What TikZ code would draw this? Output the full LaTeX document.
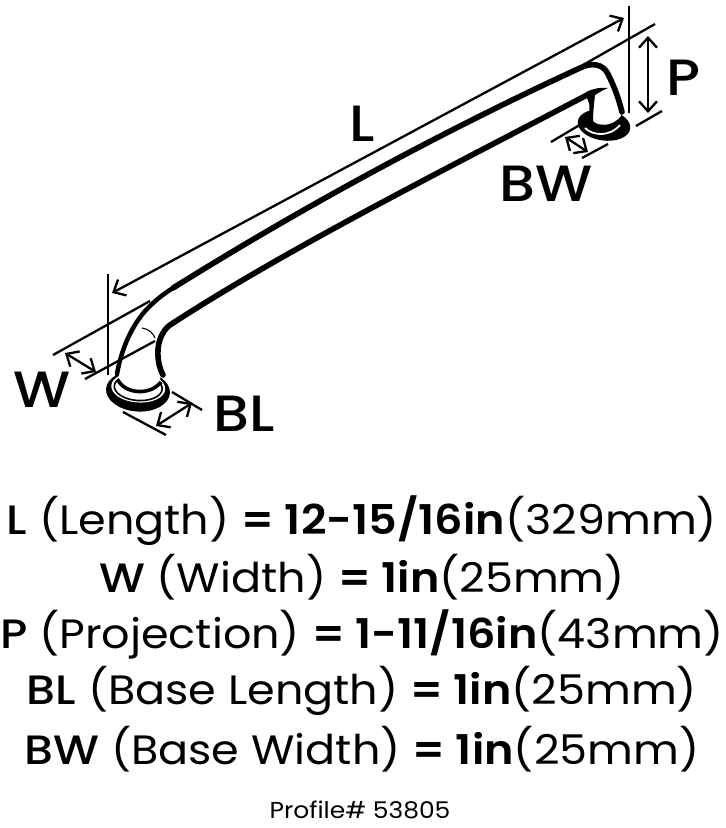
\documentclass[tikz,border=0pt]{standalone}
\usepackage{fontspec}
\setmainfont{Poppins}[FakeStretch=1.085,BoldFont={Poppins SemiBold}]
\newfontfamily\labelfont{Poppins Medium}[FakeStretch=1.12]
\newcommand{\ltr}[1]{{\labelfont #1}}
\usetikzlibrary{arrows.meta}
\tikzset{
  outline/.style={line width=5.6pt,line cap=round,line join=round},
  dim/.style={line width=2.3pt},
  dimarrow/.style={line width=2.3pt,{Straight Barb[length=10pt,width=18pt,line width=2.3pt]}-{Straight Barb[length=10pt,width=18pt,line width=2.3pt]}},
  big/.style={font=\labelfont\fontsize{51}{51}\selectfont,inner sep=0pt},
  spec/.style={font=\fontsize{41}{41}\selectfont,inner sep=0pt,anchor=center},
  foot/.style={font=\fontsize{23}{23}\selectfont,inner sep=0pt}
}
\begin{document}
\begin{tikzpicture}[x=1pt,y=-1pt]
\useasboundingbox (0,0) rectangle (726,828);
% left base
\begin{scope}[shift={(138,391)},rotate=-4]
 \fill[black] (0,0) circle[x radius=32,y radius=20.5];
 \fill[white] (0,-3.5) circle[x radius=27,y radius=15];
 \draw[line width=1.6pt] (0,-3.5) circle[x radius=24,y radius=13];
\end{scope}
\fill[white] (118,360) -- (161,360) -- (160,384) .. controls (148,395) and (130,394) .. (119,382) -- cycle;
\draw[line width=3.6pt] (118,380) .. controls (125,394) and (150,396) .. (161,382);
% right base
\begin{scope}[shift={(604,125)},rotate=-8]
 \fill[black] (0,0) circle[x radius=26.5,y radius=15.5];
\end{scope}
\fill[white] (594,96) -- (613,85) -- (621,116) .. controls (612,127) and (598,127) .. (592,120) -- cycle;
\draw[white,line width=1.8pt] (585,128) .. controls (593,136) and (610,137) .. (620,125);
% handle
\draw[outline,line width=4.5pt] (117,374) .. controls (122,345) and (135,320) .. (150,306) .. controls (157,299) and (165,293) .. (173,288);
\draw[outline] (173,288) .. controls (290,215) and (430,137) .. (580,68) .. controls (592,62) and (603,64) .. (608,74) .. controls (615,88) and (619,100) .. (622,112);
\draw[outline] (163,375) .. controls (156,362) and (157,345) .. (161,337) .. controls (163,332) and (166,328) .. (170,325) .. controls (285,250) and (440,172) .. (587,95);
\fill (586,92) .. controls (592,89) and (600,87) .. (608,88) .. controls (603,90) and (600,92) .. (595,95) .. controls (594,105) and (593,112) .. (593,122) -- (589,122) .. controls (589,112) and (591,104) .. (587,98) -- cycle;
% extension lines
\draw[dim] (108,274) -- (108,375);
\draw[dim] (629,6) -- (629,113);
\draw[dim] (53,355) -- (150,301);
\draw[dim] (85,379) -- (155,341);
\draw[line width=1.1pt] (142,328) .. controls (149,329) and (153,333) .. (155,338);
\draw[dim] (123,412) -- (166,435);
\draw[dim] (172,392) -- (202,410);
\draw[dim] (583,65) -- (655,24);
\draw[dim] (636,126) -- (662,111);
\draw[dim] (551,142) -- (583,123);
\draw[dim] (582,158) -- (608,144);
% dimension arrows
\coordinate (la) at (112,293); \coordinate (lb) at (624,18);
\coordinate (wa) at (65,353); \coordinate (wb) at (96,372);
\coordinate (bla) at (156,426); \coordinate (blb) at (192,403);
\coordinate (pa) at (648,36); \coordinate (pb) at (648,113);
\coordinate (bwa) at (565,137); \coordinate (bwb) at (588,152);
\draw[dimarrow] (la) -- (lb);
\draw[dimarrow] (wa) -- (wb);
\draw[dimarrow] (bla) -- (blb);
\draw[dimarrow] (pa) -- (pb);
\draw[dimarrow] (bwa) -- (bwb);
% labels
\node[big] (tL) at (362,124) {L};
\node[big] (tP) at (683,78) {P};
\node[big] (tBW) at (546,184) {BW};
\node[big] (tW) at (42,390) {W};
\node[big] (tBL) at (244,414) {BL};
% specs
\node[spec] (s1) at (362,521) {\ltr{L} (Length) \textbf{= 12-15/16in}(329mm)};
\node[spec] (s2) at (362,577) {\ltr{W} (Width) \textbf{= 1in}(25mm)};
\node[spec] (s3) at (362,634) {\ltr{P} (Projection) \textbf{= 1-11/16in}(43mm)};
\node[spec] (s4) at (362,691) {\ltr{BL} (Base Length) \textbf{= 1in}(25mm)};
\node[spec] (s5) at (362,749) {\ltr{BW} (Base Width) \textbf{= 1in}(25mm)};
\node[foot] (s6) at (360,810) {Profile\# 53805};
\end{tikzpicture}
\end{document}
